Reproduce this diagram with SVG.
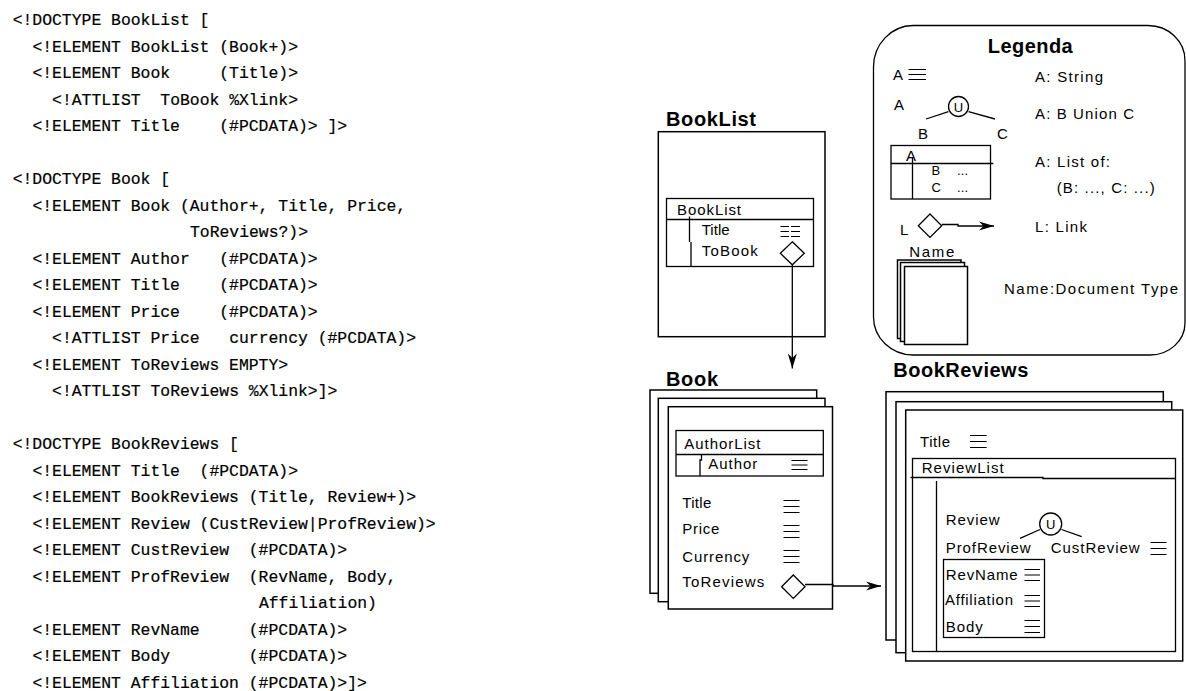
<svg xmlns="http://www.w3.org/2000/svg" width="1186" height="691" viewBox="0 0 1186 691">
<style>
.dtd{font-family:"Liberation Mono","Courier New",monospace;font-size:16.4px;fill:#000;stroke:#000;stroke-width:0.2}
.lbl{font-family:"Liberation Sans",Arial,sans-serif;font-size:15px;fill:#000}
.sm{font-family:"Liberation Sans",Arial,sans-serif;font-size:13px;fill:#000}
.ttl{font-family:"Liberation Sans",Arial,sans-serif;font-size:20px;font-weight:bold;fill:#000}
.box{fill:#fff;stroke:#000;stroke-width:1.5}
.ln{fill:none;stroke:#000;stroke-width:1.3}
.ico{fill:none;stroke:#000;stroke-width:1.2}
.con{fill:none;stroke:#000;stroke-width:1.3}
</style>
<defs>
<marker id="arr" markerUnits="userSpaceOnUse" markerWidth="20" markerHeight="12" refX="17" refY="6" orient="auto" viewBox="0 0 20 12">
<path d="M17,6 L2,1.5 L6.5,6 L2,10.5 Z" fill="#000"/>
</marker>
</defs>
<rect x="0" y="0" width="1186" height="691" fill="#fff"/>

<g id="dtd-text" class="dtd">
<text x="12.7" y="25">&lt;!DOCTYPE BookList [</text>
<text x="32.4" y="51.5">&lt;!ELEMENT BookList (Book+)&gt;</text>
<text x="32.4" y="78">&lt;!ELEMENT Book&#160;&#160;&#160;&#160;&#160;(Title)&gt;</text>
<text x="52.1" y="104.5">&lt;!ATTLIST&#160;&#160;ToBook %Xlink&gt;</text>
<text x="32.4" y="131">&lt;!ELEMENT Title&#160;&#160;&#160;&#160;(#PCDATA)&gt; ]&gt;</text>
<text x="12.7" y="184">&lt;!DOCTYPE Book [</text>
<text x="32.4" y="210.5">&lt;!ELEMENT Book (Author+, Title, Price,</text>
<text x="190" y="237">ToReviews?)&gt;</text>
<text x="32.4" y="263.5">&lt;!ELEMENT Author&#160;&#160;&#160;(#PCDATA)&gt;</text>
<text x="32.4" y="290">&lt;!ELEMENT Title&#160;&#160;&#160;&#160;(#PCDATA)&gt;</text>
<text x="32.4" y="316.5">&lt;!ELEMENT Price&#160;&#160;&#160;&#160;(#PCDATA)&gt;</text>
<text x="52.1" y="343">&lt;!ATTLIST Price&#160;&#160;&#160;currency (#PCDATA)&gt;</text>
<text x="32.4" y="369.5">&lt;!ELEMENT ToReviews EMPTY&gt;</text>
<text x="52.1" y="396">&lt;!ATTLIST ToReviews %Xlink&gt;]&gt;</text>
<text x="12.7" y="449">&lt;!DOCTYPE BookReviews [</text>
<text x="32.4" y="475.5">&lt;!ELEMENT Title&#160;&#160;(#PCDATA)&gt;</text>
<text x="32.4" y="502">&lt;!ELEMENT BookReviews (Title, Review+)&gt;</text>
<text x="32.4" y="528.5">&lt;!ELEMENT Review (CustReview|ProfReview)&gt;</text>
<text x="32.4" y="555">&lt;!ELEMENT CustReview&#160;&#160;(#PCDATA)&gt;</text>
<text x="32.4" y="581.5">&lt;!ELEMENT ProfReview&#160;&#160;(RevName, Body,</text>
<text x="258.9" y="608">Affiliation)</text>
<text x="32.4" y="634.5">&lt;!ELEMENT RevName&#160;&#160;&#160;&#160;&#160;(#PCDATA)&gt;</text>
<text x="32.4" y="661">&lt;!ELEMENT Body&#160;&#160;&#160;&#160;&#160;&#160;&#160;&#160;(#PCDATA)&gt;</text>
<text x="32.4" y="687.5">&lt;!ELEMENT Affiliation (#PCDATA)&gt;]&gt;</text>
</g>

<g id="legend">
<path class="ln" d="M913,25.5 H1148 A37,35 0 0 1 1185,60.5 V323 A35,32 0 0 1 1150,355 H913 A40,38 0 0 1 873.5,317 V67 A40,41.5 0 0 1 913,25.5 Z"/>
<text class="ttl" x="987.7" y="53" textLength="85" lengthAdjust="spacing">Legenda</text>
<text class="lbl" x="893" y="80">A</text>
<path class="ico" d="M908.5,69.5h17.5M908.5,74.5h17.5M908.5,79.5h17.5"/>
<text class="lbl" x="1035" y="82" textLength="68" lengthAdjust="spacing">A: String</text>
<text class="lbl" x="894" y="110">A</text>
<circle cx="958.5" cy="106.5" r="10" fill="#fff" stroke="#000" stroke-width="1.3"/>
<text class="sm" x="958.5" y="111.5" text-anchor="middle">U</text>
<path class="ln" d="M948.5,111.7 L926,119 M968.5,111.7 L995,119"/>
<text class="lbl" x="918" y="138.5">B</text>
<text class="lbl" x="997" y="138.5">C</text>
<text class="lbl" x="1035" y="118.5" textLength="99" lengthAdjust="spacing">A: B Union C</text>
<rect class="ln" x="891" y="145.5" width="99.5" height="53.5"/>
<path class="ln" d="M891,163.5 H993.3 M912.5,158 V199"/>
<text class="lbl" x="906" y="161">A</text>
<text class="sm" x="931.5" y="175">B</text>
<text class="sm" x="931.5" y="191.5">C</text>
<text class="sm" x="957" y="175" textLength="11" lengthAdjust="spacing">...</text>
<text class="sm" x="957" y="191.5" textLength="11" lengthAdjust="spacing">...</text>
<text class="lbl" x="1035" y="167" textLength="75" lengthAdjust="spacing">A: List of:</text>
<text class="lbl" x="1056.7" y="193" textLength="98" lengthAdjust="spacing">(B: ..., C: ...)</text>
<text class="lbl" x="900" y="235">L</text>
<path class="ln" d="M930,214 L941.7,225.7 L930,237.4 L918.3,225.7 Z" fill="#fff"/>
<path class="con" d="M941.7,224.5 H958 V226 H994" marker-end="url(#arr)"/>
<text class="lbl" x="1035" y="232" textLength="52" lengthAdjust="spacing">L: Link</text>
<text class="lbl" x="909.3" y="256.7" textLength="45" lengthAdjust="spacing">Name</text>
<rect class="box" x="897.5" y="260" width="63.5" height="78.5" stroke-width="1.3"/>
<rect class="box" x="900.5" y="262.5" width="64" height="79" stroke-width="1.3"/>
<rect class="box" x="904.5" y="266.5" width="63" height="78" stroke-width="1.3"/>
<text class="lbl" x="1004" y="294" textLength="174" lengthAdjust="spacing">Name:Document Type</text>
</g>

<g id="booklist">
<text class="ttl" x="666" y="126" textLength="90" lengthAdjust="spacing">BookList</text>
<rect class="box" x="658.3" y="131.7" width="166.7" height="205"/>
<rect class="ln" x="666.5" y="198.5" width="147" height="68"/>
<path class="ln" d="M666.5,219.5 H813.5 M689.5,216.5 V242 M691,242 V266.5"/>
<text class="lbl" x="677" y="215" textLength="64" lengthAdjust="spacing">BookList</text>
<text class="lbl" x="701.7" y="235" textLength="28" lengthAdjust="spacing">Title</text>
<path class="ico" d="M780.5,226.5h8.5M791,226.5h9M780.5,231.5h8.5M791,231.5h9M780.5,236.5h8.5M791,236.5h9"/>
<text class="lbl" x="701.7" y="256" textLength="56" lengthAdjust="spacing">ToBook</text>
<path class="ln" d="M792.3,241.8 L804.3,253.3 L792.3,264.8 L780.3,253.3 Z" fill="#fff"/>
</g>

<g id="book">
<text class="ttl" x="666" y="386" textLength="52" lengthAdjust="spacing">Book</text>
<rect class="box" x="650" y="390" width="166.7" height="203.3"/>
<rect class="box" x="658.3" y="398.3" width="166.7" height="203.4"/>
<rect class="box" x="668.3" y="406.7" width="164.2" height="202.3"/>
<rect class="ln" x="676" y="430.5" width="147.3" height="45.5"/>
<path class="ln" d="M676,454.5 H823.3 M701.5,454.5 V460 H700 V476"/>
<text class="lbl" x="684.3" y="449.3" textLength="76" lengthAdjust="spacing">AuthorList</text>
<text class="lbl" x="708.3" y="469.3" textLength="49" lengthAdjust="spacing">Author</text>
<path class="ico" d="M791.5,460.5h16M791.5,465h16M791.5,469.5h16"/>
<text class="lbl" x="682.3" y="508.3" textLength="29" lengthAdjust="spacing">Title</text>
<path class="ico" d="M783.5,500.5h16M783.5,506.5h16M783.5,512.5h16"/>
<text class="lbl" x="682.3" y="534" textLength="37" lengthAdjust="spacing">Price</text>
<path class="ico" d="M783.5,525.5h16M783.5,531.5h16M783.5,537.5h16"/>
<text class="lbl" x="682.3" y="561.5" textLength="67" lengthAdjust="spacing">Currency</text>
<path class="ico" d="M783.5,550.5h16M783.5,556.5h16M783.5,562.5h16"/>
<text class="lbl" x="682.3" y="586.5" textLength="82" lengthAdjust="spacing">ToReviews</text>
<path class="ln" d="M793.3,575 L805,586.7 L793.3,598.4 L781.6,586.7 Z" fill="#fff"/>
</g>

<g id="bookreviews">
<text class="ttl" x="893.3" y="377.3" textLength="135" lengthAdjust="spacing">BookReviews</text>
<rect class="box" x="886" y="391.7" width="277.3" height="248.3"/>
<rect class="box" x="896" y="401.7" width="275.7" height="251"/>
<rect class="box" x="905.7" y="410" width="277" height="251"/>
<text class="lbl" x="920" y="447.3" textLength="30" lengthAdjust="spacing">Title</text>
<path class="ico" d="M970,435.5h16.7M970,441.5h16.7M970,447.5h16.7"/>
<rect class="ln" x="912.5" y="458.5" width="263" height="193"/>
<path class="ln" d="M910.5,477.5 H1043 V478.5 H1175.5 M936.5,481 V651.5"/>
<text class="lbl" x="921.7" y="473.3" textLength="82" lengthAdjust="spacing">ReviewList</text>
<text class="lbl" x="945.7" y="525" textLength="54" lengthAdjust="spacing">Review</text>
<circle cx="1050.7" cy="524" r="11" fill="#fff" stroke="#000" stroke-width="1.3"/>
<text class="sm" x="1050.7" y="529" text-anchor="middle">U</text>
<path class="ln" d="M1040,529.5 L1020,538.3 M1061.5,529.5 L1081.7,536.7"/>
<text class="lbl" x="945.7" y="553.3" textLength="85" lengthAdjust="spacing">ProfReview</text>
<text class="lbl" x="1050.7" y="553.3" textLength="89" lengthAdjust="spacing">CustReview</text>
<path class="ico" d="M1150.5,542.5h16M1150.5,548.5h16M1150.5,554.5h16"/>
<rect class="ln" x="943.5" y="559.5" width="101" height="78"/>
<text class="lbl" x="945.7" y="580" textLength="72" lengthAdjust="spacing">RevName</text>
<path class="ico" d="M1024.5,569.5h15.5M1024.5,575h15.5M1024.5,580.5h15.5"/>
<text class="lbl" x="945" y="605" textLength="68" lengthAdjust="spacing">Affiliation</text>
<path class="ico" d="M1024.5,595.5h15.5M1024.5,601h15.5M1024.5,606.5h15.5"/>
<text class="lbl" x="945.7" y="631.7" textLength="37" lengthAdjust="spacing">Body</text>
<path class="ico" d="M1024.5,620.5h15.5M1024.5,626.5h15.5M1024.5,632.5h15.5"/>
</g>

<g id="connectors">
<path class="con" d="M792.3,264.8 V368.5" marker-end="url(#arr)"/>
<path class="con" d="M805,584.5 H833 V586 H881" marker-end="url(#arr)"/>
</g>
</svg>
